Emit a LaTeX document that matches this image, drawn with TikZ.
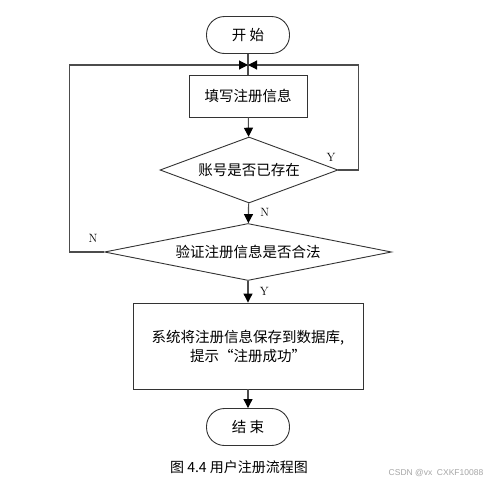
\documentclass[tikz,border=0pt]{standalone}
\usepackage{fontspec}
\newfontfamily\cjk{Noto Sans CJK SC}
\newfontfamily\markfont{Liberation Sans}
\usetikzlibrary{shapes.geometric,arrows.meta}
\tikzset{
  flowline/.style={line width=1.1pt,draw=black!70},
  flowarrow/.style={flowline,-{Triangle[length=9pt,width=9pt,color=black]}},
  termbox/.style={draw=black!80,line width=0.9pt,rounded corners=18pt,minimum width=83pt,minimum height=37pt,inner sep=0pt,font=\cjk\fontsize{14.5}{18}\selectfont},
  workbox/.style={draw=black!80,line width=0.9pt,inner sep=0pt,font=\cjk\fontsize{14.5}{19}\selectfont,align=center},
  choice/.style={diamond,draw=black!80,line width=0.9pt,inner sep=0pt,font=\cjk\fontsize{14.5}{18}\selectfont},
  yesno/.style={font=\fontsize{12}{14}\selectfont}
}
\begin{document}
\begin{tikzpicture}[x=1pt,y=-1pt]
  \path[fill=white] (0,0) rectangle (490,485); % page
  \node[termbox] (start) at (248,35) {开\ 始};
  \coordinate (merge) at (248,65); % where both loops come back
  \node[workbox,minimum width=118pt,minimum height=42pt] (fill) at (248,96) {填写注册信息};
  \node[choice,aspect=2.7,minimum width=178pt,minimum height=66pt] (exists) at (249,170) {账号是否已存在};
  \node[choice,aspect=5,minimum width=287pt,minimum height=57pt] (valid) at (248,252) {验证注册信息是否合法};
  \node[workbox,minimum width=230pt,minimum height=86pt] (save) at (248,346) {系统将注册信息保存到数据库,\\提示“注册成功”};
  \node[termbox] (stop) at (248,427) {结\ 束};
  % main path
  \draw[flowline] (start) -- (fill);
  \draw[flowarrow] (fill) -- (exists);
  \draw[flowarrow] (exists) -- (valid) node[yesno,pos=0.45,right=8pt] {N};
  \draw[flowarrow] (valid) -- (save) node[yesno,pos=0.5,right=8pt] {Y};
  \draw[flowarrow] (save) -- (stop);
  % back loops
  \draw[flowarrow] (exists.east) -- ++(20,0) |- (merge);
  \node[yesno] (ylab) at (331,157) {Y};
  \draw[flowarrow] (valid.west) -- ++(-35,0) |- (merge);
  \node[yesno] (nlab) at (93,238) {N};
  % caption and mark
  \node[font=\cjk\fontsize{14}{17}\selectfont] (caption) at (239,467) {图 4.4 用户注册流程图};
  \node[font=\markfont\fontsize{8.5}{10}\selectfont,text=black!35] (mark) at (436,473) {CSDN @vx\ \ CXKF10088};
\end{tikzpicture}
\end{document}
